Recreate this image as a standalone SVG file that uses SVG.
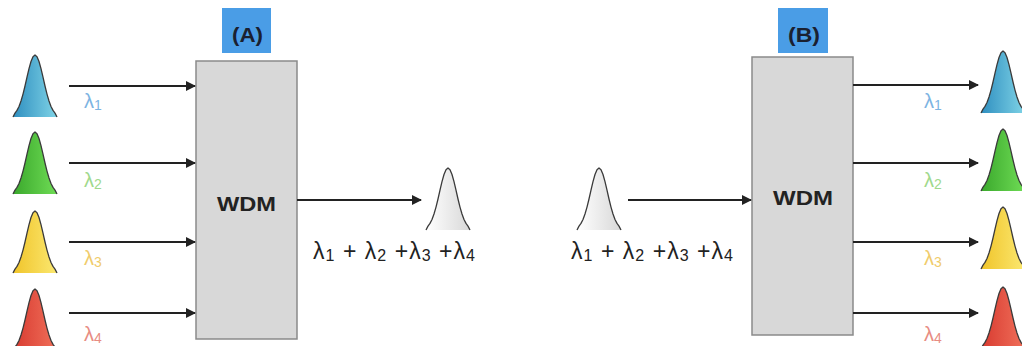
<svg xmlns="http://www.w3.org/2000/svg" width="1022" height="346" viewBox="0 0 1022 346">
<style>
.box{fill:#d8d8d8;stroke:#8a8a8a;stroke-width:1.5}
.tag{fill:#4a9de6}
.tagt{font-family:"Liberation Sans",Arial,sans-serif;font-weight:bold;font-size:20px;fill:#1a2030}
.wdm{font-family:"Liberation Sans",Arial,sans-serif;font-weight:bold;font-size:20px;fill:#222}
.lam{font-family:"Liberation Sans",Arial,sans-serif;font-size:20px}
.sum{font-family:"Liberation Sans",Arial,sans-serif;font-size:23px;fill:#222}
.sub{font-size:14px}
.sub2{font-size:16px}
.conn{stroke:#222;stroke-width:2;fill:none;marker-end:url(#ah)}
.gl{stroke:#3a3a3a;stroke-width:1.3;fill:none;stroke-linejoin:round}
.gf{stroke:none}
</style>
<defs>
<marker id="ah" viewBox="0 0 10 10" refX="9" refY="5" markerWidth="5" markerHeight="5" orient="auto" markerUnits="strokeWidth">
<path d="M0,0 L10,5 L0,10 z" fill="#222"/>
</marker>
<g id="gauss">
<path class="gf" d="M0,0 L2,-3.9 L4,-6.6 L6,-10.5 L8,-16 L10,-22.9 L12,-31 L14,-39.8 L16,-48.3 L18,-55.5 L20,-60.3 L22,-62 L24,-60.3 L26,-55.5 L28,-48.3 L30,-39.8 L32,-31 L34,-22.9 L36,-16 L38,-10.5 L40,-6.6 L42,-3.9 L44,0 Z"/>
<path class="gl" d="M0,0 L2,-3.9 L4,-6.6 L6,-10.5 L8,-16 L10,-22.9 L12,-31 L14,-39.8 L16,-48.3 L18,-55.5 L20,-60.3 L22,-62 L24,-60.3 L26,-55.5 L28,-48.3 L30,-39.8 L32,-31 L34,-22.9 L36,-16 L38,-10.5 L40,-6.6 L42,-3.9 L44,0"/>
</g>
<linearGradient id="gb" x1="0" x2="1"><stop offset="0" stop-color="#2f8fc0"/><stop offset="1" stop-color="#7fd3e6"/></linearGradient>
<linearGradient id="gg" x1="0" x2="1"><stop offset="0" stop-color="#3aa82c"/><stop offset="1" stop-color="#6fdc55"/></linearGradient>
<linearGradient id="gy" x1="0" x2="1"><stop offset="0" stop-color="#f0c42a"/><stop offset="1" stop-color="#fbe870"/></linearGradient>
<linearGradient id="gr" x1="0" x2="1"><stop offset="0" stop-color="#d83a30"/><stop offset="1" stop-color="#f0705a"/></linearGradient>
<linearGradient id="gw" x1="0" x2="1"><stop offset="0" stop-color="#ffffff"/><stop offset="1" stop-color="#d8d8d8"/></linearGradient>
</defs>

<g id="input-signals">
<use href="#gauss" x="13" y="117" fill="url(#gb)"/>
<use href="#gauss" x="13" y="194" fill="url(#gg)"/>
<use href="#gauss" x="13" y="273" fill="url(#gy)"/>
<use href="#gauss" x="13" y="351" fill="url(#gr)"/>
<text class="lam" x="84" y="108" fill="#7cb4e2">λ<tspan class="sub" dy="2">1</tspan></text>
<text class="lam" x="84" y="187" fill="#9fd98c">λ<tspan class="sub" dy="2">2</tspan></text>
<text class="lam" x="84" y="265" fill="#f0cc6c">λ<tspan class="sub" dy="2">3</tspan></text>
<text class="lam" x="84" y="341" fill="#e88c82">λ<tspan class="sub" dy="2">4</tspan></text>
</g>

<g id="wdm-a">
<rect class="tag" x="222" y="8" width="49" height="45"/>
<text class="tagt" x="232" y="42" textLength="31" lengthAdjust="spacingAndGlyphs">(A)</text>
<rect class="box" x="196" y="61" width="101" height="278"/>
<text class="wdm" x="217" y="211" textLength="59" lengthAdjust="spacingAndGlyphs">WDM</text>
</g>

<g id="combined-a">
<use href="#gauss" x="426" y="230" fill="url(#gw)"/>
<text class="sum" x="313" y="259" textLength="162" lengthAdjust="spacing">λ<tspan class="sub2" dy="2">1</tspan><tspan dy="-2"> + λ</tspan><tspan class="sub2" dy="2">2</tspan><tspan dy="-2"> +λ</tspan><tspan class="sub2" dy="2">3</tspan><tspan dy="-2"> +λ</tspan><tspan class="sub2" dy="2">4</tspan></text>
</g>

<g id="combined-b">
<use href="#gauss" x="577" y="230" fill="url(#gw)"/>
<text class="sum" x="571" y="259" textLength="162" lengthAdjust="spacing">λ<tspan class="sub2" dy="2">1</tspan><tspan dy="-2"> + λ</tspan><tspan class="sub2" dy="2">2</tspan><tspan dy="-2"> +λ</tspan><tspan class="sub2" dy="2">3</tspan><tspan dy="-2"> +λ</tspan><tspan class="sub2" dy="2">4</tspan></text>
</g>

<g id="wdm-b">
<rect class="tag" x="778" y="8" width="50" height="45"/>
<text class="tagt" x="788" y="42" textLength="32" lengthAdjust="spacingAndGlyphs">(B)</text>
<rect class="box" x="752" y="57" width="101" height="278"/>
<text class="wdm" x="773" y="205" textLength="60" lengthAdjust="spacingAndGlyphs">WDM</text>
</g>

<g id="output-signals">
<use href="#gauss" x="981" y="113" fill="url(#gb)"/>
<use href="#gauss" x="981" y="191" fill="url(#gg)"/>
<use href="#gauss" x="981" y="269" fill="url(#gy)"/>
<use href="#gauss" x="981" y="349" fill="url(#gr)"/>
<text class="lam" x="924" y="108" fill="#7cb4e2">λ<tspan class="sub" dy="2">1</tspan></text>
<text class="lam" x="924" y="187" fill="#9fd98c">λ<tspan class="sub" dy="2">2</tspan></text>
<text class="lam" x="924" y="265" fill="#f0cc6c">λ<tspan class="sub" dy="2">3</tspan></text>
<text class="lam" x="924" y="341" fill="#e88c82">λ<tspan class="sub" dy="2">4</tspan></text>
</g>

<g id="connectors">
<line class="conn" x1="69" y1="86" x2="195" y2="86"/>
<line class="conn" x1="69" y1="163" x2="195" y2="163"/>
<line class="conn" x1="69" y1="242" x2="195" y2="242"/>
<line class="conn" x1="69" y1="313" x2="195" y2="313"/>
<line class="conn" x1="297" y1="200" x2="421" y2="200"/>
<line class="conn" x1="628" y1="200" x2="751" y2="200"/>
<line class="conn" x1="853" y1="85" x2="978" y2="85"/>
<line class="conn" x1="853" y1="163" x2="978" y2="163"/>
<line class="conn" x1="853" y1="242" x2="978" y2="242"/>
<line class="conn" x1="853" y1="313" x2="978" y2="313"/>
</g>
</svg>
